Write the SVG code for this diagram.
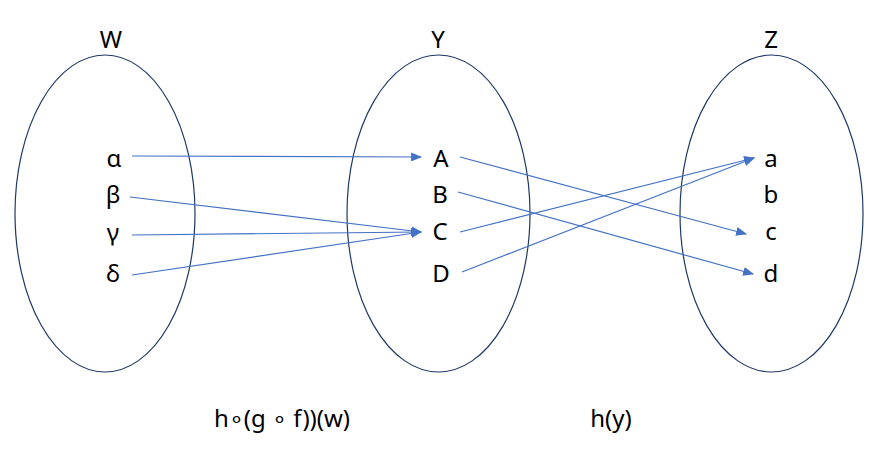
<svg xmlns="http://www.w3.org/2000/svg" width="886" height="462" viewBox="0 0 886 462">
<defs>
<style>
.set{fill:none;stroke:#1f3864;stroke-width:1.2}
.lbl{font-family:"Noto Sans","Noto Sans CJK KR",sans-serif;font-size:24px;fill:#000;text-anchor:middle}
.arr{fill:none;stroke:#4472c4;stroke-width:1.2;marker-end:url(#ah)}
</style>
<marker id="ah" viewBox="0 0 10 10" refX="9" refY="5" markerWidth="11" markerHeight="9" markerUnits="userSpaceOnUse" orient="auto" preserveAspectRatio="none">
<path d="M0,0 L10,5 L0,10 Z" fill="#4472c4"/>
</marker>
</defs>
<rect width="886" height="462" fill="#fff"/>
<g id="W">
<ellipse class="set" cx="105" cy="213.5" rx="90" ry="158.5"/>
<text class="lbl" x="111" y="48">W</text>
<text class="lbl" x="114" y="167">α</text>
<text class="lbl" x="113" y="203">β</text>
<text class="lbl" x="113" y="241">γ</text>
<text class="lbl" x="113" y="282">δ</text>
</g>
<g id="Y">
<ellipse class="set" cx="438.5" cy="213.5" rx="91.5" ry="158.5"/>
<text class="lbl" x="438" y="48">Y</text>
<text class="lbl" x="441" y="167">A</text>
<text class="lbl" x="440" y="203">B</text>
<text class="lbl" x="440" y="240">C</text>
<text class="lbl" x="441" y="282">D</text>
</g>
<g id="Z">
<ellipse class="set" cx="771.5" cy="213.5" rx="91.5" ry="158.5"/>
<text class="lbl" x="771" y="48">Z</text>
<text class="lbl" x="771" y="167">a</text>
<text class="lbl" x="771" y="203">b</text>
<text class="lbl" x="771" y="240">c</text>
<text class="lbl" x="771" y="282">d</text>
</g>
<g id="connectors">
<line class="arr" x1="132" y1="156" x2="421" y2="157"/>
<line class="arr" x1="130" y1="197" x2="421" y2="232"/>
<line class="arr" x1="132" y1="235" x2="421" y2="232"/>
<line class="arr" x1="132" y1="275" x2="421" y2="232"/>
<line class="arr" x1="460" y1="157" x2="746" y2="234"/>
<line class="arr" x1="458" y1="192" x2="753" y2="274"/>
<line class="arr" x1="460" y1="232" x2="754" y2="158"/>
<line class="arr" x1="462" y1="272" x2="754" y2="158"/>
</g>
<g id="captions">
<text class="lbl" x="282" y="427">h∘(g ∘ f))(w)</text>
<text class="lbl" x="611" y="427">h(y)</text>
</g>
</svg>
